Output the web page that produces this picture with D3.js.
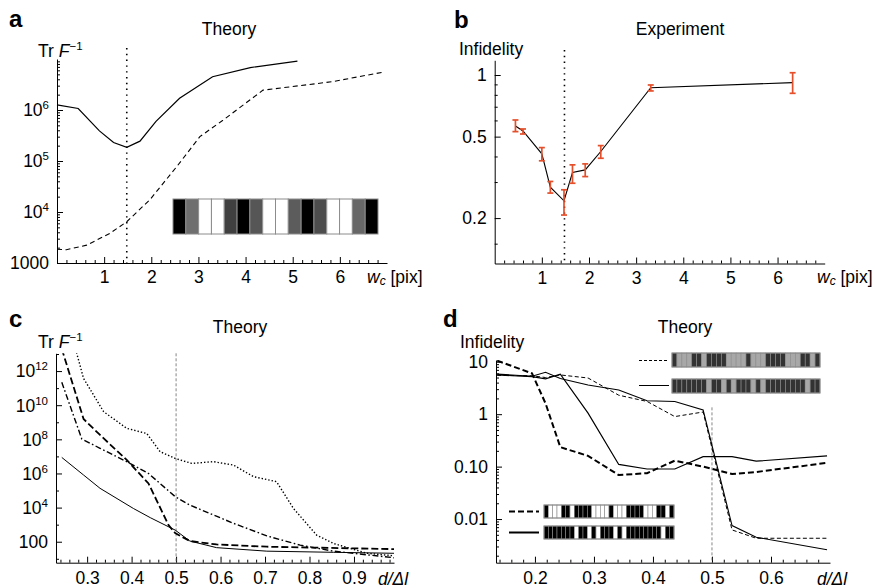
<!DOCTYPE html>
<html>
<head>
<meta charset="utf-8">
<script src="https://cdn.jsdelivr.net/npm/d3@7"></script>
<style>
  body { margin: 0; background: #fff; }
  svg { display: block; }
  text { font-family: "Liberation Sans", Arial, Helvetica, sans-serif; fill: #000; }
</style>
</head>
<body>
<svg id="fig" width="875" height="588"></svg>
<script>
(function () {
  'use strict';

  // ---- panel a : theory, Tr F^-1 against w_c
  var aWcSolid = [0, 0.45, 0.9, 1.2, 1.48, 1.76, 2.1, 2.6, 2.95, 3.3, 4.1, 5.1];
  var aSolid = [1.26e6, 1.07e6, 3.9e5, 2.3e5, 1.86e5, 2.45e5, 6.0e5, 1.7e6, 2.75e6, 4.5e6, 6.8e6, 9.1e6];
  var aWcDashed = [0, 0.2, 0.63, 1.12, 1.48, 1.97, 2.54, 3.03, 3.52, 4.37, 5.85, 6.95];
  var aDashed = [1860, 1820, 2240, 3800, 6450, 17400, 77600, 3.0e5, 6.3e5, 2.45e6, 3.6e6, 5.6e6];
  var aPixels = [0, 0.36, 1, 1, 0.2, 0, 0.27, 1, 1, 0.29, 0, 0.24, 1, 1, 0.33, 0];
  var aYTicks = [1e3, 1e4, 1e5, 1e6];
  var aYLabels = [['1000', ''], ['10', '4'], ['10', '5'], ['10', '6']];
  var wcTicks = [1, 2, 3, 4, 5, 6];
  var wcOpt = 1.48;

  // ---- panel b : experiment, infidelity against w_c
  var bWc = [0.44, 0.60, 1.0, 1.18, 1.47, 1.65, 1.92, 2.25, 3.31, 6.32];
  var bInf = [0.564, 0.533, 0.412, 0.283, 0.243, 0.334, 0.344, 0.423, 0.867, 0.918];
  var bLo = [0.529, 0.515, 0.381, 0.265, 0.207, 0.296, 0.319, 0.392, 0.836, 0.814];
  var bHi = [0.603, 0.545, 0.442, 0.302, 0.275, 0.364, 0.368, 0.452, 0.894, 1.026];
  var bYTicks = [0.2, 0.5, 1];
  var bYLabels = [['0.2', ''], ['0.5', ''], ['1', '']];
  var bYMinor = [0.15, 0.3, 0.4, 0.6, 0.7, 0.8, 0.9];

  // ---- panel c : theory, Tr F^-1 against d/dl
  var cXSolid = [0.243, 0.292, 0.329, 0.404, 0.442, 0.498, 0.531, 0.591, 0.704, 0.854, 0.99];
  var cSolid = [8.7e6, 8.1e5, 1.35e5, 8900, 2570, 480, 110, 45, 28, 24, 21];
  var cXDash = [0.243, 0.292, 0.329, 0.389, 0.438, 0.483, 0.498, 0.531, 0.591, 0.704, 0.99];
  var cDash = [2e13, 1.55e9, 1.8e8, 6.2e6, 2.6e5, 950, 320, 110, 69, 51, 37];
  var cXDashDot = [0.243, 0.288, 0.329, 0.389, 0.438, 0.498, 0.531, 0.629, 0.704, 0.779, 0.854, 0.99];
  var cDashDot = [2.2e11, 1.05e8, 3.0e7, 4.9e6, 1.0e6, 4.4e4, 1.4e4, 1200, 220, 63, 28, 11.5];
  var cXDot = [0.272, 0.292, 0.337, 0.389, 0.434, 0.464, 0.498, 0.535, 0.584, 0.629, 0.674, 0.726, 0.764, 0.816, 0.854, 0.929, 0.99];
  var cDot = [3e13, 3.7e11, 4.2e9, 4.4e8, 2.2e8, 1.9e7, 7.6e6, 3.9e6, 4.9e6, 3.1e6, 6.5e5, 3.3e5, 8900, 245, 79, 21, 15];
  var cXTicks = [0.3, 0.4, 0.5, 0.6, 0.7, 0.8, 0.9];
  var cYTicks = [1e2, 1e4, 1e6, 1e8, 1e10, 1e12];
  var cYLabels = [['100', ''], ['10', '4'], ['10', '6'], ['10', '8'], ['10', '10'], ['10', '12']];
  var cYMinor = [1e1, 1e3, 1e5, 1e7, 1e9, 1e11, 1e13];

  // ---- panel d : theory, infidelity against d/dl
  var dX = [0.136, 0.195, 0.218, 0.243, 0.29, 0.342, 0.39, 0.437, 0.485, 0.534, 0.575, 0.695];
  var dHeavyDash = [10.5, 6.0, 1.6, 0.235, 0.16, 0.069, 0.075, 0.13, 0.1, 0.072, 0.079, 0.118];
  var dHeavySolid = [5.6, 5.2, 4.7, 5.8, 1.05, 0.11, 0.09, 0.09, 0.155, 0.155, 0.127, 0.16];
  var dThinDash = [5.5, 5.4, 5.0, 5.6, 4.9, 2.3, 1.75, 0.9, 1.1, 0.0062, 0.0043, 0.0043];
  var dThinSolid = [5.8, 5.3, 6.3, 4.8, 3.6, 2.9, 1.8, 1.75, 1.2, 0.0075, 0.0045, 0.0026];
  var dXTicks = [0.2, 0.3, 0.4, 0.5, 0.6];
  var dYTicks = [0.01, 0.1, 1, 10];
  var dYLabels = [['0.01', ''], ['0.10', ''], ['1', ''], ['10', '']];
  var patDash = 'DLLLDDLDDDDLLLLDLLLDDDDLLLDDLD';
  var patSolid = 'DDDDDDDLDDLDLDDDLDLDDDDDDDDLDD';
  var dRef = 0.5;

  var FS = 17.5;
  var orange = '#e4502b';
  var svg = d3.select('#fig');

  function line(x, y) {
    return d3.line().x(function (d) { return x(d[0]); }).y(function (d) { return y(d[1]); });
  }
  function pairs(xs, ys) {
    return xs.map(function (v, i) { return [v, ys[i]]; });
  }

  function axes(x, y, o) {
    var x0 = x.range()[0];
    var y0 = y.range()[0];
    var gx = svg.append('g').attr('transform', 'translate(0,' + y0 + ')');
    gx.call(d3.axisBottom(x).tickValues(o.xMinor).tickSizeInner(-3).tickSizeOuter(0).tickFormat(''));
    gx.append('g')
      .call(d3.axisBottom(x).tickValues(o.xMajor).tickSizeInner(-6).tickSizeOuter(0)
        .tickPadding(o.xPad).tickFormat(o.xFmt))
      .attr('font-size', FS)
      .select('.domain').remove();

    var gy = svg.append('g').attr('transform', 'translate(' + x0 + ',0)');
    gy.call(d3.axisLeft(y).tickValues(o.yMinor).tickSizeInner(-3).tickSizeOuter(0).tickFormat(''));
    gy.append('g')
      .call(d3.axisLeft(y).tickValues(o.yMajor).tickSizeInner(-6).tickSizeOuter(0).tickFormat(''))
      .select('.domain').remove();

    o.yMajor.forEach(function (v, i) {
      var t = svg.append('text')
        .attr('x', x0 - 8).attr('y', y(v)).attr('dy', '0.36em')
        .attr('text-anchor', 'end').attr('font-size', FS);
      t.append('tspan').text(o.yLab[i][0]);
      if (o.yLab[i][1]) {
        t.append('tspan').attr('dy', -7).attr('font-size', 11.5).text(o.yLab[i][1]);
      }
    });
  }

  function text(x, y, s, opts) {
    opts = opts || {};
    return svg.append('text').attr('x', x).attr('y', y)
      .attr('font-size', opts.size || FS)
      .attr('font-weight', opts.weight || null)
      .attr('font-style', opts.italic ? 'italic' : null)
      .attr('text-anchor', opts.anchor || 'start')
      .text(s);
  }

  function trF(x, y) {
    var t = svg.append('text').attr('x', x).attr('y', y).attr('font-size', FS);
    t.append('tspan').text('Tr ');
    t.append('tspan').attr('font-style', 'italic').text('F');
    t.append('tspan').attr('dy', -7).attr('font-size', 11.5).text('\u22121');
  }

  function wcLabel(x, y) {
    var t = svg.append('text').attr('x', x).attr('y', y).attr('font-size', FS);
    t.append('tspan').attr('font-style', 'italic').text('w');
    t.append('tspan').attr('font-style', 'italic').attr('font-size', 12).attr('dy', 2).text('c');
    t.append('tspan').attr('dy', -2).text(' [pix]');
  }

  function clip(id, x, y) {
    svg.append('clipPath').attr('id', id).append('rect')
      .attr('x', x.range()[0]).attr('y', y.range()[1])
      .attr('width', x.range()[1] - x.range()[0])
      .attr('height', y.range()[0] - y.range()[1]);
    return 'url(#' + id + ')';
  }

  function path(d, gen, w, dash, cp, col) {
    svg.append('path').datum(d).attr('d', gen)
      .attr('fill', 'none').attr('stroke', col || '#000')
      .attr('stroke-width', w).attr('stroke-dasharray', dash || null)
      .attr('clip-path', cp || null);
  }

  function barcode(x, y, w, h, pat, dark, light) {
    var n = pat.length;
    var bx = d3.scaleBand().domain(d3.range(n)).range([x, x + w]);
    var g = svg.append('g');
    g.selectAll('rect').data(pat.split('')).enter().append('rect')
      .attr('x', function (d, i) { return bx(i); })
      .attr('y', y).attr('width', bx.bandwidth()).attr('height', h)
      .attr('fill', function (d) { return d === 'D' ? dark : light; })
      .attr('stroke', '#8a8a8a').attr('stroke-width', 0.6);
    g.append('rect').attr('x', x).attr('y', y).attr('width', w).attr('height', h)
      .attr('fill', 'none').attr('stroke', '#888').attr('stroke-width', 1);
  }

  var wcMinor = d3.range(1, 35).map(function (i) { return i * 0.2; })
    .filter(function (v) { return Math.abs(v - Math.round(v)) > 1e-6; });

  // ================= panel a
  var xa = d3.scaleLinear().domain([0, 7]).range([57, 387]);
  var ya = d3.scaleLog().domain([1e3, 1e7]).range([263, 59]);
  var aMinor = [];
  [1e3, 1e4, 1e5, 1e6].forEach(function (p) {
    for (var k = 2; k < 10; k++) aMinor.push(p * k);
  });
  axes(xa, ya, {
    xMajor: wcTicks, xMinor: wcMinor, xPad: 8, xFmt: d3.format('d'),
    yMajor: aYTicks, yMinor: aMinor, yLab: aYLabels
  });
  svg.append('line')
    .attr('x1', xa(wcOpt)).attr('x2', xa(wcOpt))
    .attr('y1', 48).attr('y2', ya.range()[0])
    .attr('stroke', '#000').attr('stroke-width', 1.6).attr('stroke-dasharray', '1.4,4.4');
  path(pairs(aWcSolid, aSolid), line(xa, ya), 1.2);
  path(pairs(aWcDashed, aDashed), line(xa, ya), 1.1, '5,3.5');

  var pxScale = d3.scaleBand().domain(d3.range(aPixels.length)).range([173, 378]);
  svg.append('g').selectAll('rect').data(aPixels).enter().append('rect')
    .attr('x', function (d, i) { return pxScale(i); })
    .attr('y', 199).attr('width', pxScale.bandwidth()).attr('height', 35)
    .attr('fill', function (d) { return d3.interpolateGreys(1 - d); })
    .attr('stroke', '#8c8c8c').attr('stroke-width', 1);

  text(9, 27, 'a', { weight: 'bold', size: 24 });
  text(229, 35, 'Theory', { anchor: 'middle' });
  trF(38, 57);
  wcLabel(367, 283);

  // ================= panel b
  var xb = d3.scaleLinear().domain([0, 7]).range([494.7, 824.7]);
  var yb = d3.scaleLog().domain([0.12, 1.18]).range([263.5, 60.3]);
  axes(xb, yb, {
    xMajor: wcTicks, xMinor: wcMinor, xPad: 8, xFmt: d3.format('d'),
    yMajor: bYTicks, yMinor: bYMinor, yLab: bYLabels
  });
  svg.append('line')
    .attr('x1', xb(wcOpt)).attr('x2', xb(wcOpt))
    .attr('y1', 50).attr('y2', yb.range()[0])
    .attr('stroke', '#000').attr('stroke-width', 1.6).attr('stroke-dasharray', '1.4,4.4');
  path(pairs(bWc, bInf), line(xb, yb), 1.1);
  var eb = svg.append('g').attr('stroke', orange).attr('stroke-width', 1.7);
  bWc.forEach(function (w, i) {
    var cx = xb(w);
    eb.append('line').attr('x1', cx).attr('x2', cx).attr('y1', yb(bLo[i])).attr('y2', yb(bHi[i]));
    eb.append('line').attr('x1', cx - 3).attr('x2', cx + 3).attr('y1', yb(bLo[i])).attr('y2', yb(bLo[i]));
    eb.append('line').attr('x1', cx - 3).attr('x2', cx + 3).attr('y1', yb(bHi[i])).attr('y2', yb(bHi[i]));
  });
  text(454, 28, 'b', { weight: 'bold', size: 24 });
  text(680, 35, 'Experiment', { anchor: 'middle' });
  text(459, 55, 'Infidelity');
  wcLabel(817, 283);

  // ================= panel c
  var xc = d3.scaleLinear().domain([0.23, 0.99]).range([56, 394]);
  var yc = d3.scaleLog().domain([5.9, 1.1e13]).range([562.7, 353.3]);
  var dlMinorC = d3.range(12, 50).map(function (i) { return i * 0.02; })
    .filter(function (v) { return Math.abs(v * 10 - Math.round(v * 10)) > 1e-6; });
  axes(xc, yc, {
    xMajor: cXTicks, xMinor: dlMinorC, xPad: 9, xFmt: d3.format('.1f'),
    yMajor: cYTicks, yMinor: cYMinor, yLab: cYLabels
  });
  svg.append('line')
    .attr('x1', xc(dRef)).attr('x2', xc(dRef))
    .attr('y1', yc.range()[1]).attr('y2', yc.range()[0])
    .attr('stroke', '#666').attr('stroke-width', 0.8).attr('stroke-dasharray', '3,2');
  var cpC = clip('clipC', xc, yc);
  path(pairs(cXSolid, cSolid), line(xc, yc), 1.0, null, cpC);
  path(pairs(cXDash, cDash), line(xc, yc), 1.8, '7,3', cpC);
  path(pairs(cXDashDot, cDashDot), line(xc, yc), 1.4, '6,2.5,1.6,2.5', cpC);
  path(pairs(cXDot, cDot), line(xc, yc), 1.4, '1.4,2', cpC);
  text(9, 327, 'c', { weight: 'bold', size: 24 });
  text(240, 333, 'Theory', { anchor: 'middle' });
  trF(38, 348);
  text(378, 585, 'd/\u0394l', { italic: true });

  // ================= panel d
  var xd = d3.scaleLinear().domain([0.134, 0.70]).range([496, 830]);
  var yd = d3.scaleLog().domain([0.00147, 10.8]).range([562.7, 360]);
  var dlMinorD = d3.range(7, 36).map(function (i) { return i * 0.02; })
    .filter(function (v) { return Math.abs(v * 10 - Math.round(v * 10)) > 1e-6; });
  var dMinor = [];
  [0.001, 0.01, 0.1, 1].forEach(function (p) {
    for (var k = 2; k < 10; k++) dMinor.push(p * k);
  });
  dMinor = dMinor.filter(function (v) { return v > 0.00147; });
  axes(xd, yd, {
    xMajor: dXTicks, xMinor: dlMinorD, xPad: 9, xFmt: d3.format('.1f'),
    yMajor: dYTicks, yMinor: dMinor, yLab: dYLabels
  });
  svg.append('line')
    .attr('x1', xd(dRef)).attr('x2', xd(dRef))
    .attr('y1', yd(1.35)).attr('y2', yd.range()[0])
    .attr('stroke', '#666').attr('stroke-width', 0.8).attr('stroke-dasharray', '3,2');
  var cpD = clip('clipD', xd, yd);
  path(pairs(dX, dThinDash), line(xd, yd), 1.0, '4,2.5', cpD);
  path(pairs(dX, dThinSolid), line(xd, yd), 1.1, null, cpD);
  path(pairs(dX, dHeavySolid), line(xd, yd), 1.2, null, cpD);
  path(pairs(dX, dHeavyDash), line(xd, yd), 2.0, '6,3', cpD);

  // legend: upper pair (grey patterns), lower pair (black/white patterns)
  svg.append('line').attr('x1', 639).attr('x2', 669).attr('y1', 360.5).attr('y2', 360.5)
    .attr('stroke', '#000').attr('stroke-width', 1).attr('stroke-dasharray', '3,2');
  svg.append('line').attr('x1', 639).attr('x2', 669).attr('y1', 385.5).attr('y2', 385.5)
    .attr('stroke', '#000').attr('stroke-width', 1);
  barcode(672, 353, 148, 14, patDash, '#333', '#a8a8a8');
  barcode(672, 379, 148, 14, patSolid, '#333', '#a8a8a8');
  svg.append('line').attr('x1', 509).attr('x2', 539).attr('y1', 511.5).attr('y2', 511.5)
    .attr('stroke', '#000').attr('stroke-width', 2).attr('stroke-dasharray', '6,3');
  svg.append('line').attr('x1', 509).attr('x2', 539).attr('y1', 532.5).attr('y2', 532.5)
    .attr('stroke', '#000').attr('stroke-width', 2);
  barcode(544, 505, 130, 13, patDash, '#000', '#fff');
  barcode(544, 526, 130, 13, patSolid, '#000', '#fff');

  text(443, 327, 'd', { weight: 'bold', size: 24 });
  text(685, 333, 'Theory', { anchor: 'middle' });
  text(460, 348, 'Infidelity');
  text(817, 585, 'd/\u0394l', { italic: true });
}());
</script>
</body>
</html>
